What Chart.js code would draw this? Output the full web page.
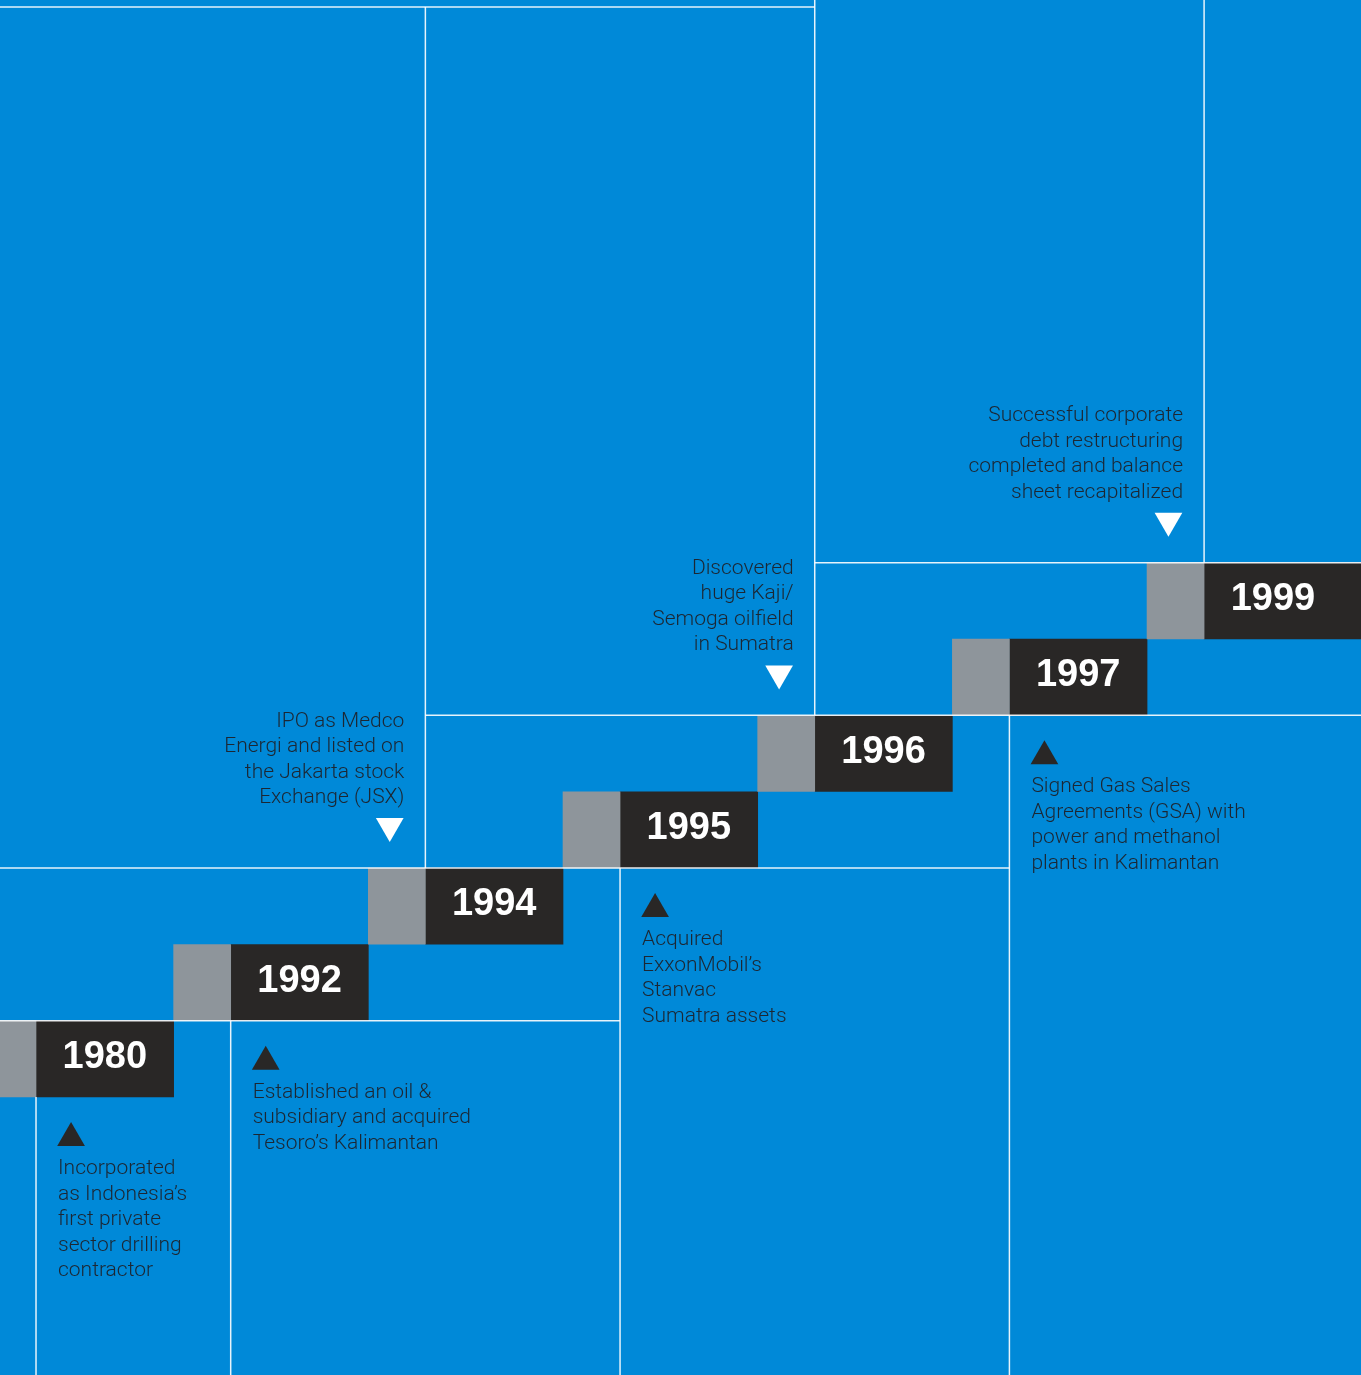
<!DOCTYPE html>
<html>
<head>
<meta charset="utf-8">
<script src="https://cdn.jsdelivr.net/npm/chart.js@4.4.1/dist/chart.umd.min.js"></script>
<style>
  html, body { margin: 0; padding: 0; background: #0089d8; }
  #wrap { position: relative; width: 1361px; height: 1375px; }
</style>
</head>
<body>
<div id="wrap"><canvas id="timeline"></canvas></div>
<script>
// milestones, one step of the staircase each
const years = ['1980', '1992', '1994', '1995', '1996', '1997', '1999'];
const sides = ['below', 'below', 'above', 'below', 'above', 'below', 'above'];
const notes = [
    ['Incorporated', 'as Indonesia\u2019s', 'first private', 'sector drilling', 'contractor'],
    ['Established an oil &', 'subsidiary and acquired', 'Tesoro\u2019s Kalimantan'],
    ['IPO as Medco', 'Energi and listed on', 'the Jakarta stock', 'Exchange (JSX)'],
    ['Acquired', 'ExxonMobil\u2019s', 'Stanvac', 'Sumatra assets'],
    ['Discovered', 'huge Kaji/', 'Semoga oilfield', 'in Sumatra'],
    ['Signed Gas Sales', 'Agreements (GSA) with', 'power and methanol', 'plants in Kalimantan'],
    ['Successful corporate', 'debt restructuring', 'completed and balance', 'sheet recapitalized']
];

// axes are in "step" units: x = step index, y = staircase level
const GREY = 0.293;
const X_MIN = 0.108, X_MAX = 7.099;
const Y_MIN = -3.642, Y_MAX = 14.372;
const TOP_RULE = 14.28;
const xd = i => i + GREY;   // where the black part of a step starts

const GREY_COL = '#8e959b';
const DARK = '#292726';
const RULE = 'rgba(255,255,255,0.9)';
const TEXT = '#1c2733';

const greyBars = years.map((y, i) => ({ y: i + 0.5, x: [i, i + GREY] }));
const darkBars = years.map((y, i) => ({ y: i + 0.5, x: [i + GREY, i === years.length - 1 ? X_MAX : i + 1] }));

// white frame lines
const rules = [
    [[X_MIN, 1], [xd(3), 1]],
    [[X_MIN, 3], [xd(5), 3]],
    [[xd(2), 5], [X_MAX, 5]],
    [[xd(4), 7], [X_MAX, 7]],
    [[X_MIN, TOP_RULE], [xd(4), TOP_RULE]],
    [[xd(0), Y_MIN], [xd(0), 0]],
    [[xd(1), Y_MIN], [xd(1), 1]],
    [[xd(2), 3], [xd(2), TOP_RULE]],
    [[xd(3), Y_MIN], [xd(3), 3]],
    [[xd(4), 5], [xd(4), Y_MAX]],
    [[xd(5), Y_MIN], [xd(5), 5]],
    [[xd(6), 7], [xd(6), Y_MAX]]
];

const upMarks = [];
const downMarks = [];
years.forEach((y, i) => {
    if (sides[i] === 'below') upMarks.push({ x: xd(i) + 0.18, y: i - 0.537 });
    else downMarks.push({ x: i + 0.11, y: i + 1.55 });
});

const ruleSets = rules.map(r => ({
    type: 'line',
    data: r.map(p => ({ x: p[0], y: p[1] })),
    borderColor: RULE,
    borderWidth: 1.5,
    pointRadius: 0,
    fill: false,
    order: 1
}));

const textPlugin = {
    id: 'stepText',
    afterDatasetsDraw(chart) {
        const ctx = chart.ctx;
        const sx = chart.scales.x, sy = chart.scales.y;
        ctx.save();
        // year labels
        ctx.fillStyle = '#ffffff';
        ctx.font = 'bold 38px "Liberation Sans", Arial, sans-serif';
        ctx.textAlign = 'center';
        ctx.textBaseline = 'alphabetic';
        years.forEach((y, i) => {
            const cx = sx.getPixelForValue(i + GREY + (1 - GREY) / 2);
            ctx.fillText(y, cx, sy.getPixelForValue(i + 0.5) + 9);
        });
        // notes
        ctx.fillStyle = TEXT;
        ctx.font = '300 21px Roboto, sans-serif';
        notes.forEach((lines, i) => {
            if (sides[i] === 'below') {
                ctx.textAlign = 'left';
                const x = sx.getPixelForValue(xd(i)) + 22;
                const y0 = sy.getPixelForValue(i) + 77;
                lines.forEach((t, k) => ctx.fillText(t, x, y0 + k * 25.5));
            } else {
                ctx.textAlign = 'right';
                const x = sx.getPixelForValue(i) + 36;
                const yLast = sy.getPixelForValue(i + 1) - 65;
                lines.forEach((t, k) => ctx.fillText(t, x, yLast - (lines.length - 1 - k) * 25.5));
            }
        });
        ctx.restore();
    }
};

const ctx = document.getElementById('timeline').getContext('2d');
const timeline = new Chart(ctx, {
    type: 'scatter',
    data: {
        datasets: [
            {
                type: 'scatter',
                label: 'up',
                data: upMarks,
                pointStyle: 'triangle',
                pointRadius: 16,
                pointBackgroundColor: DARK,
                pointBorderWidth: 0,
                order: 0
            },
            {
                type: 'scatter',
                label: 'down',
                data: downMarks,
                pointStyle: 'triangle',
                pointRotation: 180,
                pointRadius: 16,
                pointBackgroundColor: '#ffffff',
                pointBorderWidth: 0,
                order: 0
            },
            ...ruleSets,
            {
                type: 'bar',
                label: 'grey',
                indexAxis: 'y',
                data: greyBars,
                backgroundColor: GREY_COL,
                barThickness: 76,
                grouped: false,
                order: 2
            },
            {
                type: 'bar',
                label: 'year',
                indexAxis: 'y',
                data: darkBars,
                backgroundColor: DARK,
                barThickness: 76,
                grouped: false,
                order: 2
            }
        ]
    },
    options: {
        responsive: true,
        maintainAspectRatio: false,
        animation: false,
        events: [],
        layout: { padding: 0, autoPadding: false },
        plugins: { legend: { display: false }, tooltip: { enabled: false } },
        scales: {
            x: { type: 'linear', min: X_MIN, max: X_MAX, offset: false, display: false },
            y: { type: 'linear', min: Y_MIN, max: Y_MAX, offset: false, display: false }
        }
    },
    plugins: [textPlugin]
});
</script>
</body>
</html>
